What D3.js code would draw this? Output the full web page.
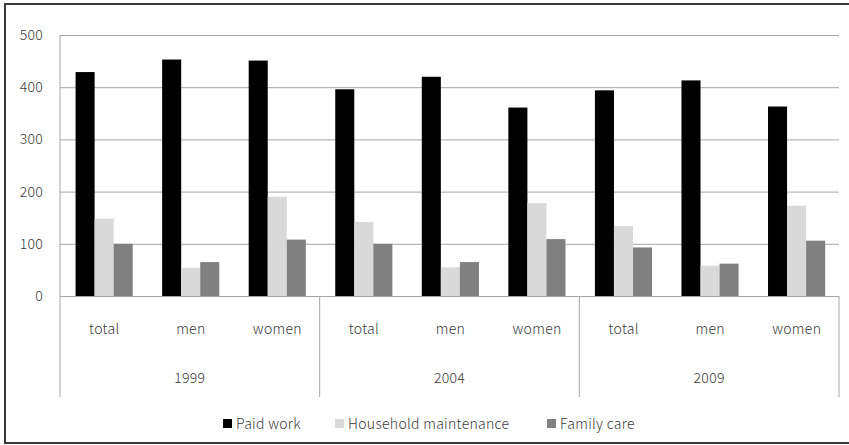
<!DOCTYPE html>
<html>
<head>
<meta charset="utf-8">
<script src="https://cdn.jsdelivr.net/npm/d3@7"></script>
<style>
  body { margin: 0; background: #fff; }
  svg text { font-family: "Noto Sans CJK KR", "Noto Sans", sans-serif; font-weight: 300; letter-spacing: 0.3px; fill: #3a3a3a; }
</style>
</head>
<body>
<div id="chart"></div>
<script>
// data
const years = ["1999", "2004", "2009"]
const groups = ["total", "men", "women"]
const seriesNames = ["Paid work", "Household maintenance", "Family care"]
const paidWork = [429, 453, 451, 396, 420, 361, 394, 413, 363]
const household = [148, 54, 190, 142, 55, 178, 134, 58, 173]
const familyCare = [100, 65, 108, 100, 65, 109, 93, 62, 106]
const yTicks = [0, 100, 200, 300, 400, 500]

const colors = ["#000000", "#d9d9d9", "#808080"]
const seriesValues = [paidWork, household, familyCare]

const width = 849, height = 445
const plot = { left: 60, right: 839, top: 35, bottom: 296 }
const fontSize = "14px"

const svg = d3.select("#chart").append("svg")
  .attr("width", width)
  .attr("height", height)

// outer frame (right side is cut off in the original)
svg.append("path")
  .attr("d", `M${width},4 H5 V443 H${width}`)
  .attr("fill", "none")
  .attr("stroke", "#3a3a3a")
  .attr("stroke-width", 2)

const y = d3.scaleLinear().domain([0, 500]).range([plot.bottom, plot.top])

const xYear = d3.scaleBand().domain(years).range([plot.left, plot.right])
const xGroup = d3.scaleBand().domain(groups).range([0, xYear.bandwidth()])
const xSeries = d3.scaleBand().domain(seriesNames)
  .range([xGroup.bandwidth() * 0.18, xGroup.bandwidth() * 0.84])

// gridlines + y labels
const yAxis = svg.append("g")
  .attr("transform", `translate(${plot.left},0)`)
  .call(d3.axisLeft(y).tickValues(yTicks).tickSize(-(plot.right - plot.left)).tickPadding(17))
yAxis.select(".domain").remove()
yAxis.selectAll(".tick line").attr("stroke", "#a6a6a6")
yAxis.selectAll(".tick text")
  .style("font-size", fontSize)
  .attr("fill", null)

// bars
const rows = []
years.forEach((yr, i) => {
  groups.forEach((g, j) => {
    seriesNames.forEach((s, k) => {
      rows.push({ year: yr, group: g, series: s, value: seriesValues[k][i * groups.length + j], color: colors[k] })
    })
  })
})

svg.append("g")
  .selectAll("rect")
  .data(rows)
  .join("rect")
  .attr("x", d => xYear(d.year) + xGroup(d.group) + xSeries(d.series))
  .attr("y", d => y(d.value))
  .attr("width", xSeries.bandwidth())
  .attr("height", d => y(0) - y(d.value))
  .attr("fill", d => d.color)

// category axis lines
const catBottom = 397
svg.append("line")
  .attr("x1", plot.left).attr("x2", plot.left)
  .attr("y1", plot.top).attr("y2", catBottom)
  .attr("stroke", "#a6a6a6")
svg.append("g")
  .selectAll("line")
  .data(years)
  .join("line")
  .attr("x1", d => xYear(d) + xYear.bandwidth())
  .attr("x2", d => xYear(d) + xYear.bandwidth())
  .attr("y1", plot.bottom).attr("y2", catBottom)
  .attr("stroke", "#a6a6a6")

// group labels
years.forEach(yr => {
  svg.append("g")
    .selectAll("text")
    .data(groups)
    .join("text")
    .attr("x", d => xYear(yr) + xGroup(d) + xGroup.bandwidth() / 2 + 1)
    .attr("y", 329)
    .attr("dy", "0.35em")
    .attr("text-anchor", "middle")
    .style("font-size", fontSize)
    .text(d => d)
})

// year labels
svg.append("g")
  .selectAll("text")
  .data(years)
  .join("text")
  .attr("x", d => xYear(d) + xYear.bandwidth() / 2)
  .attr("y", 378)
  .attr("dy", "0.35em")
  .attr("text-anchor", "middle")
  .style("font-size", fontSize)
  .text(d => d)

// legend
const legendX = [223, 335, 547]
const legend = svg.append("g")
  .selectAll("g")
  .data(seriesNames)
  .join("g")
  .attr("transform", (d, i) => `translate(${legendX[i]},424)`)
legend.append("rect")
  .attr("x", 0).attr("y", -5)
  .attr("width", 9).attr("height", 9)
  .attr("fill", (d, i) => colors[i])
legend.append("text")
  .attr("x", 13)
  .attr("dy", "0.35em")
  .style("font-size", fontSize)
  .text(d => d)
</script>
</body>
</html>
